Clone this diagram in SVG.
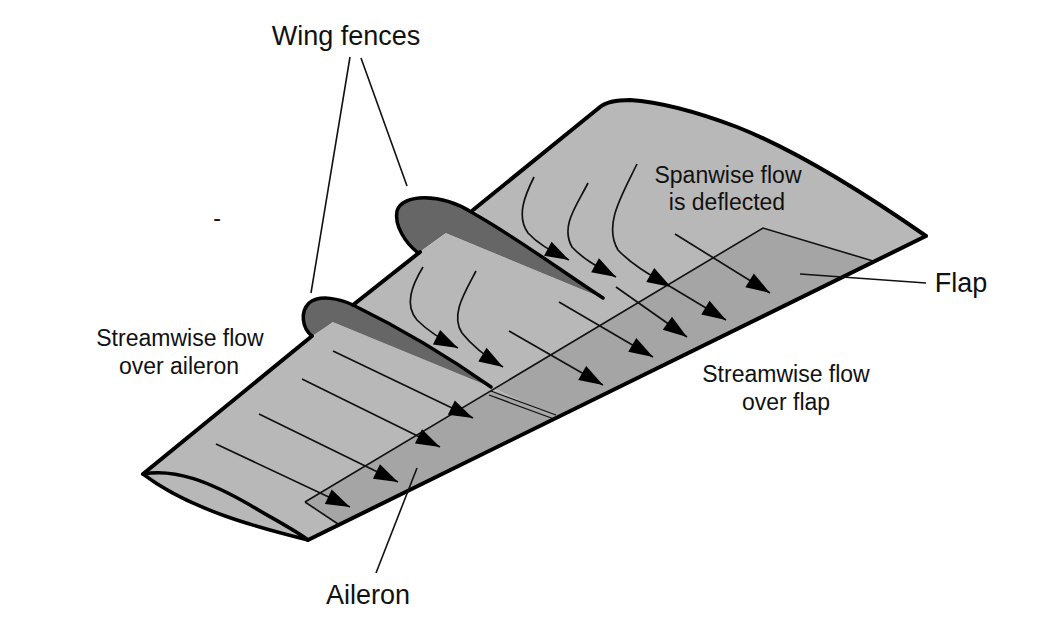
<svg xmlns="http://www.w3.org/2000/svg" width="1040" height="628" viewBox="0 0 1040 628">
<style>
text{font-family:"Liberation Sans",Arial,sans-serif;fill:#111;text-anchor:middle}
.lg{font-size:27px}.sm{font-size:23px}
.wing{fill:#b8b8b8;stroke:none}.ctrl{fill:#a5a5a5;stroke:none}
.edge{fill:none;stroke:#000;stroke-width:4;stroke-linejoin:round;stroke-linecap:round}
.thin{fill:none;stroke:#111;stroke-width:1.6}
.flow{fill:none;stroke:#111;stroke-width:1.7;marker-end:url(#a)}
</style>
<defs><marker id="a" markerUnits="userSpaceOnUse" markerWidth="28" markerHeight="20" viewBox="0 0 28 20" refX="26" refY="10" orient="auto"><path d="M2 2 L26 10 L2 18Z" fill="#000"/></marker></defs>
<rect width="1040" height="628" fill="#fff"/>
<g id="fence-inboard">
<path d="M417 254 C406 243 394 226 397 211 C402 194 440 192 473 213 C520 240 560 270 603 298 L446 233Z" fill="#666"/>
<path class="edge" d="M417 252 C406 243 394 226 397 211 C402 194 440 192 473 213" style="stroke-width:3.5"/>
</g>
<g id="fence-outboard">
<path d="M312 338 C302 328 300 312 309 303 C320 294 340 299 353 305 L491 387 L333 322Z" fill="#666"/>
<path class="edge" d="M312 336 C302 328 300 312 309 303 C320 294 340 299 353 305" style="stroke-width:3.5"/>
</g>
<g id="wing">
<path class="wing" d="M143 474 L312 336 L333 322 L488 385 L353 305 L420 252 L446 233 L603 298 L473 210 L600 107 C606 102 615 100 630 100 C660 102 700 113 737 127 C790 148 860 190 926 236 L308 540 C260 528 190 510 143 474Z"/>
<path d="M333 322 L491 387 C450 358 400 328 353 305 L330 322Z" fill="#666"/>
<path d="M446 233 L603 298 C560 270 520 240 473 213 L440 236Z" fill="#666"/>
<path id="flap" class="ctrl" d="M763 228 L873 261 L555 417 L494 388Z"/>
<path id="aileron-surface" class="ctrl" d="M305 502 L491 391 L556 417 L338 524Z"/>
<path class="thin" d="M305 502 L763 228 L873 261"/>
<path class="thin" d="M305 502 L338 524"/>
<path class="thin" d="M491 391 L556 415 M489 395 L554 419" style="stroke-width:1.2"/>
<path class="edge" d="M353 305 C400 328 450 358 491 387 M473 213 C520 240 560 270 603 298" style="stroke-width:3.5"/>
</g>
<g id="outline">
<path class="edge" d="M143 474 L312 336 M353 305 L420 252 M473 210 L600 107 C606 102 615 100 630 100 C660 102 700 113 737 127 C790 148 860 190 926 236 L308 540"/>
<path class="edge" d="M143 474 C175 468 210 482 250 505 C275 520 295 530 308 540 C260 528 190 510 143 474Z" style="stroke-width:3.5"/>
</g>
<g id="connectors">
<path class="flow" d="M333 351 L473 418"/>
<path class="flow" d="M302 379 L440 447"/>
<path class="flow" d="M259 414 L398 482"/>
<path class="flow" d="M216 444 L350 507"/>
<path class="flow" d="M423 267 C412 285 404 305 417 320 C428 331 442 340 458 348"/>
<path class="flow" d="M476 271 C465 292 450 315 462 333 C473 347 488 358 503 367"/>
<path class="flow" d="M534 177 C525 195 516 216 528 233 C540 246 554 252 569 260"/>
<path class="flow" d="M588 183 C577 205 560 226 572 247 C584 260 600 268 616 277"/>
<path class="flow" d="M637 164 C622 195 603 225 618 250 C632 265 652 276 671 287"/>
<path class="flow" d="M675 234 L770 293"/>
<path class="flow" d="M671 287 L726 320"/>
<path class="flow" d="M616 287 L687 337"/>
<path class="flow" d="M559 302 L653 357"/>
<path class="flow" d="M509 331 L603 385"/>
<path class="thin" d="M350 57 L311 293 M361 58 L407 186 M800 274 L926 283 M417 468 L376 573"/>
</g>
<g id="labels">
<text class="lg" x="346" y="45">Wing fences</text>
<text class="lg" x="961" y="292">Flap</text>
<text class="lg" x="368" y="604">Aileron</text>
<text class="sm" x="180" y="346">Streamwise flow</text>
<text class="sm" x="179" y="374">over aileron</text>
<text class="sm" x="728" y="183">Spanwise flow</text>
<text class="sm" x="727" y="210">is deflected</text>
<text class="sm" x="786" y="382">Streamwise flow</text>
<text class="sm" x="786" y="410">over flap</text>
<text class="sm" x="217" y="226">-</text>
</g>
</svg>
